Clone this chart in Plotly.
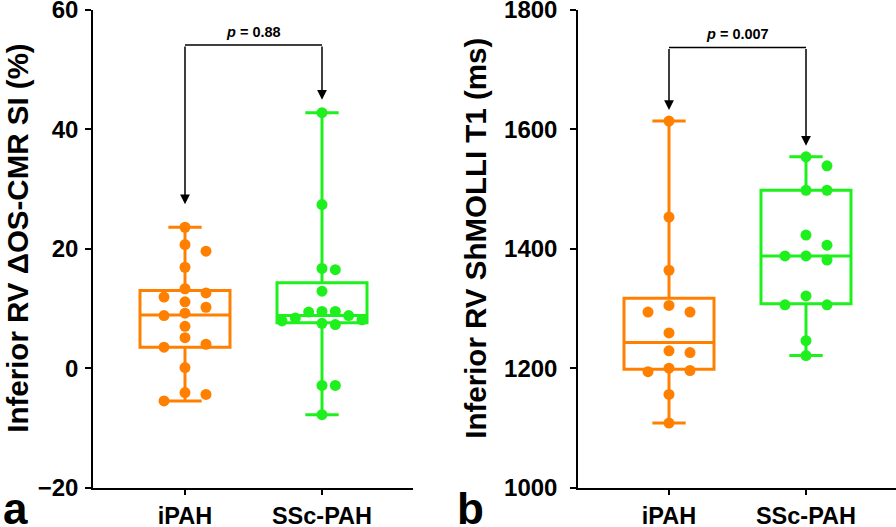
import plotly.graph_objects as go

# ---------------- data ----------------
groups = ["iPAH", "SSc-PAH"]

# panel a: Inferior RV ΔOS-CMR SI (%)
a_ipah = [23.6, 20.7, 19.6, 16.9, 13.3, 12.6, 11.9, 11.1, 10.2, 9.2, 8.8, 7.0,
          5.1, 4.0, 3.5, 0.1, -4.1, -4.4, -5.5]
a_ssc = [42.8, 27.4, 16.7, 16.5, 12.9, 9.5, 9.5, 9.4, 8.8, 8.4, 8.1, 7.9, 7.5,
         7.3, -2.9, -2.9, -7.8]
a_q1 = [3.5, 7.6]
a_median = [8.9, 8.8]
a_q3 = [13.0, 14.3]
a_low = [-5.5, -7.8]
a_high = [23.6, 42.8]
a_p = "0.88"
a_ticks = [-20, 0, 20, 40, 60]

# panel b: Inferior RV ShMOLLI T1 (ms)
b_ipah = [1614, 1453, 1364, 1305, 1294, 1294, 1259, 1229, 1226, 1200, 1196,
          1194, 1156, 1108]
b_ssc = [1554, 1539, 1498, 1498, 1423, 1406, 1388, 1388, 1381, 1321, 1306,
         1306, 1246, 1221]
b_q1 = [1198, 1308]
b_median = [1243, 1388]
b_q3 = [1317, 1498]
b_low = [1108, 1221]
b_high = [1614, 1554]
b_p = "0.007"
b_ticks = [1000, 1200, 1400, 1600, 1800]

# ---------------- styling / geometry ----------------
W, H = 896, 527
ORANGE = "#FF8000"
GREEN = "#1EF01E"
COLORS = [ORANGE, GREEN]
FONT = "Liberation Sans, Arial, sans-serif"
TOP, BOT = 10, 487.5
panels = [
    dict(x0=93, x1=413, cat0=185, yr=(-20, 60), ticks=a_ticks,
         title="Inferior RV ΔOS-CMR SI (%)", title_x=18, letter="a", letter_x=1,
         series=[a_ipah, a_ssc], q1=a_q1, med=a_median, q3=a_q3, lo=a_low,
         hi=a_high, p=a_p, bracket_px=45, tip_gap=[23, 13]),
    dict(x0=578, x1=896, cat0=669, yr=(1000, 1800), ticks=b_ticks,
         title="Inferior RV ShMOLLI T1 (ms)", title_x=476, letter="b", letter_x=455,
         series=[b_ipah, b_ssc], q1=b_q1, med=b_median, q3=b_q3, lo=b_low,
         hi=b_high, p=b_p, bracket_px=47.5, tip_gap=[11, 11]),
]
STEP_PX = 137      # distance between the two categories
BOX_PX = 90        # box width
MARK = 11          # marker diameter


def swarm_cols(vals, ppu, th=11):
    order = sorted(range(len(vals)), key=lambda i: -vals[i])
    placed, cols = [], [0] * len(vals)
    cands = [0, 1, -1, 2, -2, 3, -3, 4, -4, 5, -5, 6, -6]
    for i in order:
        y = vals[i] * ppu
        for c in cands:
            if all(not (pc == c and abs(py - y) < th) for pc, py in placed):
                break
        placed.append((c, y))
        cols[i] = c
    return cols


fig = go.Figure()
annotations, shapes = [], []

for pi, P in enumerate(panels):
    xa = "x" if pi == 0 else "x2"
    ya = "y" if pi == 0 else "y2"
    ppu_y = (BOT - TOP) / (P["yr"][1] - P["yr"][0])
    xr = [(P["x0"] - P["cat0"]) / STEP_PX, (P["x1"] - P["cat0"]) / STEP_PX]

    def px2y(py, P=P, ppu_y=ppu_y):
        return P["yr"][0] + (BOT - py) / ppu_y

    for gi in range(2):
        fig.add_trace(go.Box(
            x=[gi], q1=[P["q1"][gi]], median=[P["med"][gi]], q3=[P["q3"][gi]],
            lowerfence=[P["lo"][gi]], upperfence=[P["hi"][gi]],
            width=BOX_PX / STEP_PX, whiskerwidth=0.37,
            line=dict(color=COLORS[gi], width=3), fillcolor="rgba(0,0,0,0)",
            boxpoints=False, hoverinfo="skip", showlegend=False,
            xaxis=xa, yaxis=ya))
    for gi in range(2):
        vals = P["series"][gi]
        cols = swarm_cols(vals, ppu_y)
        mk = max(abs(c) for c in cols) or 1
        s = min(21, 40 / mk)
        xs = [gi + c * s / STEP_PX for c in cols]
        fig.add_trace(go.Scatter(
            x=xs, y=vals, mode="markers",
            marker=dict(color=COLORS[gi], size=MARK, line=dict(width=0)),
            showlegend=False, xaxis=xa, yaxis=ya))

    # significance bracket
    by = px2y(P["bracket_px"])
    shapes.append(dict(type="line", xref=xa, yref=ya, x0=0, x1=1, y0=by, y1=by,
                       line=dict(color="black", width=1.5)))
    for gi in range(2):
        tip = P["hi"][gi] + P["tip_gap"][gi] / ppu_y
        annotations.append(dict(
            x=gi, y=tip, ax=gi, ay=by, xref=xa, yref=ya, axref=xa, ayref=ya,
            text="", showarrow=True, arrowhead=2, arrowsize=1.3,
            arrowwidth=1.5, arrowcolor="black"))
    annotations.append(dict(
        x=0.5, y=by, xref=xa, yref=ya, text="<b><i>p</i> = " + P["p"] + "</b>",
        showarrow=False, yanchor="bottom", yshift=3,
        font=dict(family=FONT, size=14.5, color="black")))

    # axis title and panel letter
    annotations.append(dict(
        x=P["title_x"] / W, y=1 - ((TOP + BOT) / 2 - 10) / H, xref="paper",
        yref="paper", text="<b>" + P["title"] + "</b>", textangle=-90,
        showarrow=False, xanchor="center", yanchor="middle",
        font=dict(family=FONT, size=29.5, color="black")))
    annotations.append(dict(
        x=P["letter_x"] / W, y=0, xref="paper", yref="paper",
        text="<b>" + P["letter"] + "</b>", showarrow=False, xanchor="left",
        yanchor="bottom", yshift=-8,
        font=dict(family=FONT, size=44, color="black")))

    axis_common = dict(showline=True, linecolor="black", linewidth=1.5,
                       ticks="outside", ticklen=6, tickwidth=1.5,
                       tickcolor="black", showgrid=False, zeroline=False,
                       ticklabeloverflow="allow", automargin=False)
    xdom = [P["x0"] / W, P["x1"] / W]
    ydom = [1 - BOT / H, 1 - TOP / H]
    fig.layout[("xaxis" if pi == 0 else "xaxis2")] = dict(
        domain=xdom, range=xr, tickvals=[0, 1], ticktext=groups, anchor=ya,
        tickfont=dict(family=FONT, size=23.5, color="black", weight="bold"),
        ticklabelstandoff=1, **axis_common)
    fig.layout[("yaxis" if pi == 0 else "yaxis2")] = dict(
        domain=ydom, range=list(P["yr"]), tickvals=P["ticks"], anchor=xa,
        tickfont=dict(family=FONT, size=24, color="black", weight="bold"),
        ticklabelstandoff=2 if pi == 0 else 8,
        **axis_common)

fig.update_layout(
    width=W, height=H, margin=dict(l=0, r=0, t=0, b=0, autoexpand=False),
    paper_bgcolor="white", plot_bgcolor="white",
    annotations=annotations, shapes=shapes, showlegend=False,
    font=dict(family=FONT, color="black"))

fig.write_html(
    "out.html",
    config={"displayModeBar": False},
    post_script="document.body.style.margin='0';"
                "document.body.style.overflow='hidden';")
